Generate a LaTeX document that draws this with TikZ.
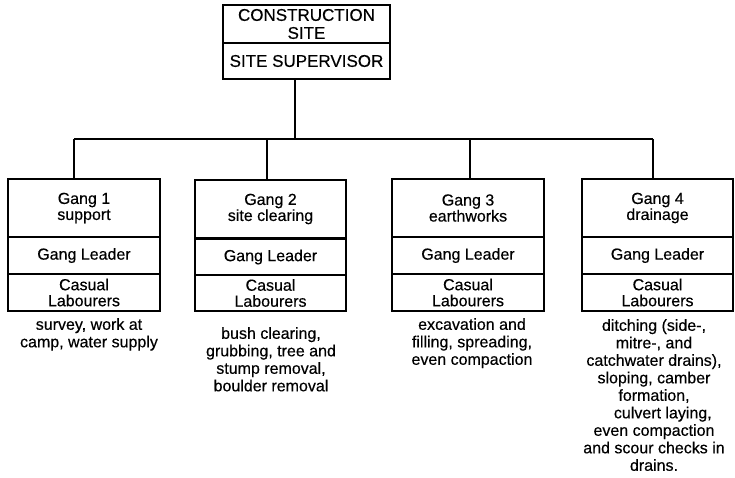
\documentclass[tikz,border=0pt]{standalone}
\usepackage{fontspec}
\setmainfont{Liberation Sans}[FakeBold=0.4]
\begin{document}
\begin{tikzpicture}[x=1pt,y=-1pt,
  cell/.style={draw, line width=1.8pt, minimum width=152pt, inner sep=0pt,
    align=center, font=\fontsize{16}{16}\selectfont},
  topcell/.style={cell, minimum width=167pt, font=\fontsize{17}{18}\selectfont},
  note/.style={anchor=north, align=center, inner sep=0pt,
    font=\fontsize{16}{17.5}\selectfont},
  wire/.style={line width=1.8pt}]
\useasboundingbox (0,0) rectangle (735,477);

% head of the chart
\node[topcell, minimum height=38pt] (site) at (306.5,24) {CONSTRUCTION\\SITE};
\node[topcell, minimum height=36pt] (sup) at (306.5,61) {SITE SUPERVISOR};

% gang boxes: title, leader, labourers
\node[cell, minimum height=58pt] (g1) at (84,208) {Gang 1\\support};
\node[cell, minimum height=37pt] (l1) at (84,255.5) {Gang Leader};
\node[cell, minimum height=37pt] (c1) at (84,292.5) {Casual\\Labourers};

\node[cell, minimum width=151pt, minimum height=58pt] (g2) at (270.5,209) {Gang 2\\site clearing};
\node[cell, minimum width=151pt, minimum height=36pt] (l2) at (270.5,257) {Gang Leader};
\node[cell, minimum width=151pt, minimum height=36pt] (c2) at (270.5,293) {Casual\\Labourers};

\node[cell, minimum height=58pt] (g3) at (468,208) {Gang 3\\earthworks};
\node[cell, minimum height=37pt] (l3) at (468,255.5) {Gang Leader};
\node[cell, minimum height=37pt] (c3) at (468,292.5) {Casual\\Labourers};

\node[cell, minimum width=151pt, minimum height=58pt] (g4) at (657.5,208) {Gang 4\\drainage};
\node[cell, minimum width=151pt, minimum height=37pt] (l4) at (657.5,255.5) {Gang Leader};
\node[cell, minimum width=151pt, minimum height=37pt] (c4) at (657.5,292.5) {Casual\\Labourers};

% task descriptions
\node[note] (d1) at (89,318) {survey, work at\\camp, water supply};
\node[note] (d2) at (271,327) {bush clearing,\\grubbing, tree and\\stump removal,\\boulder removal};
\node[note] (d3) at (472,318) {excavation and\\filling, spreading,\\even compaction};
\node[note] (d4) at (654,319) {ditching (side-,\\mitre-, and\\catchwater drains),\\sloping, camber\\formation,\\\hspace*{1.1em}culvert laying,\\even compaction\\and scour checks in\\drains.};

% connectors
\coordinate (hub) at (295,139);
\coordinate (j1) at (74,139);
\coordinate (j2) at (267,139);
\coordinate (j3) at (470,139);
\coordinate (j4) at (653,139);
\draw[wire] (sup.south -| hub) -- (hub);
\draw[wire] (j1) -- (j4);
\draw[wire] (j1) -- (g1.north -| j1);
\draw[wire] (j2) -- (g2.north -| j2);
\draw[wire] (j3) -- (g3.north -| j3);
\draw[wire] (j4) -- (g4.north -| j4);
\end{tikzpicture}
\end{document}
